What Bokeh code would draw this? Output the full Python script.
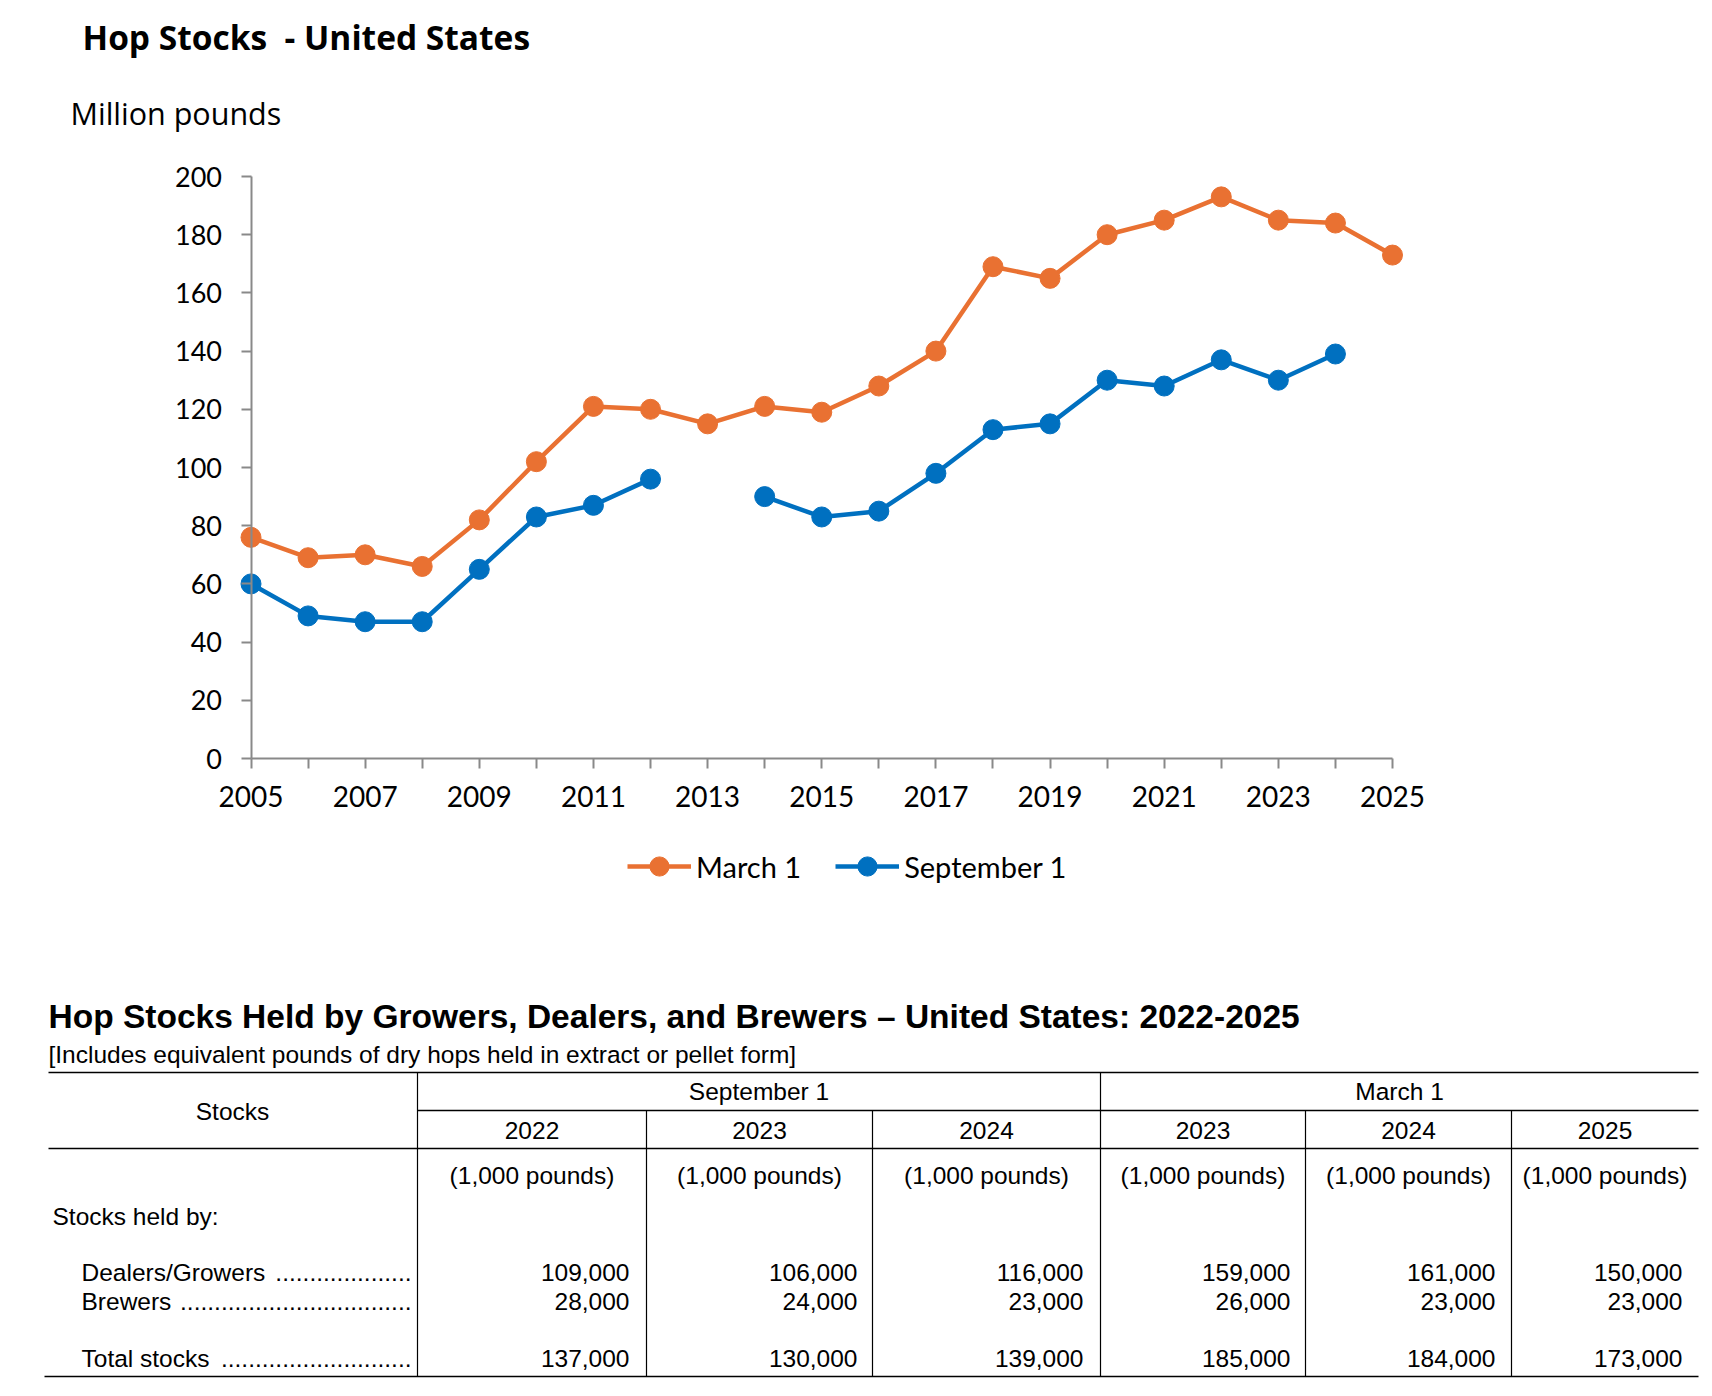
import math
from bokeh.plotting import figure
from bokeh.models import Range1d, FixedTicker, Legend, LegendItem, ColumnDataSource
from bokeh.embed import file_html
from bokeh.resources import INLINE
from bokeh.core.properties import value

# ---------------- data ----------------
years = list(range(2005, 2026))
march_1 = [76, 69, 70, 66, 82, 102, 121, 120, 115, 121, 119, 128, 140, 169, 165, 180, 185, 193, 185, 184, 173]
september_1 = [60, 49, 47, 47, 65, 83, 87, 96, math.nan, 90, 83, 85, 98, 113, 115, 130, 128, 137, 130, 139, math.nan]
y_ticks = [0, 20, 40, 60, 80, 100, 120, 140, 160, 180, 200]
x_label_years = [2005, 2007, 2009, 2011, 2013, 2015, 2017, 2019, 2021, 2023, 2025]

chart_title = "Hop Stocks  - United States"
y_unit = "Million pounds"

table_title = "Hop Stocks Held by Growers, Dealers, and Brewers \u2013 United States: 2022-2025"
table_note = "[Includes equivalent pounds of dry hops held in extract or pellet form]"
stub_header = "Stocks"
table_groups = ["September 1", "March 1"]
table_years = ["2022", "2023", "2024", "2023", "2024", "2025"]
table_unit = "(1,000 pounds)"
section_label = "Stocks held by:"
row_labels = ["Dealers/Growers", "Brewers", "Total stocks"]
dealers_growers = [109000, 106000, 116000, 159000, 161000, 150000]
brewers = [28000, 24000, 23000, 26000, 23000, 23000]
total_stocks = [137000, 130000, 139000, 185000, 184000, 173000]

ORANGE = "#E97132"
BLUE = "#0070C0"
AXIS = "#898989"
FONT = "Lato"
HFONT = "Open Sans"
TFONT = "Liberation Sans"
ORG = 0          # page origin of the figures
W = 1710


def canvas(top, bottom):
    """figure whose frame is the whole canvas, with page-pixel ranges"""
    f = figure(width=W, height=bottom - top, output_backend="svg", toolbar_location=None,
               x_range=Range1d(ORG, ORG + W), y_range=Range1d(bottom, top), min_border=0,
               x_axis_location=None, y_axis_location=None)
    f.outline_line_color = None
    f.xgrid.visible = False
    f.ygrid.visible = False
    return f


# ---------------- header ----------------
H_TOP, H_BOT = ORG, 140
h = canvas(H_TOP, H_BOT)
h.text(x=[82], y=[36], text=[chart_title.replace("  ", " \u00a0")], text_font=value(HFONT),
       text_font_style="bold", text_font_size="33.5px", text_baseline="middle", text_color="black")
h.text(x=[70], y=[112], text=[y_unit], text_font=value(HFONT),
       text_font_size="30.5px", text_baseline="middle", text_color="black")

# ---------------- chart ----------------
C_TOP, C_BOT = H_BOT, 990
FR_L, FR_R, FR_T, FR_B = 170, ORG + W, C_TOP, 910   # frame, page px
X0_PX, X1_PX = 250.5, 1392.0                        # 2005 / 2025 positions
Y0_PX, Y1_PX = 758.0, 176.0                         # 0 / 200 positions
kx = (X1_PX - X0_PX) / (years[-1] - years[0])
ky = (Y0_PX - Y1_PX) / (y_ticks[-1] - y_ticks[0])

p = figure(width=W, height=C_BOT - C_TOP, output_backend="svg", toolbar_location=None,
           x_range=Range1d(years[0] - (X0_PX - FR_L) / kx, years[0] + (FR_R - X0_PX) / kx),
           y_range=Range1d(y_ticks[0] - (FR_B - Y0_PX) / ky, y_ticks[0] + (Y0_PX - FR_T) / ky),
           min_border_left=FR_L - ORG, min_border_right=ORG + W - FR_R,
           min_border_top=FR_T - C_TOP, min_border_bottom=C_BOT - FR_B)
p.outline_line_color = None
p.xgrid.visible = False
p.ygrid.visible = False

src = ColumnDataSource(dict(x=years, m=march_1, s=september_1))
lm = p.line("x", "m", source=src, line_color=ORANGE, line_width=4.5)
cm = p.scatter("x", "m", source=src, marker="circle", size=20, fill_color=ORANGE, line_color=ORANGE)
ls = p.line("x", "s", source=src, line_color=BLUE, line_width=4.5)
cs = p.scatter("x", "s", source=src, marker="circle", size=20, fill_color=BLUE, line_color=BLUE)

xa = p.xaxis[0]
xa.ticker = FixedTicker(ticks=years)
xa.major_label_overrides = {y: (str(y) if y in x_label_years else "") for y in years}
xa.bounds = (years[0], years[-1])
xa.fixed_location = y_ticks[0]
ya = p.yaxis[0]
ya.ticker = FixedTicker(ticks=y_ticks)
ya.bounds = (y_ticks[0], y_ticks[-1])
ya.fixed_location = years[0]
for ax in (xa, ya):
    ax.axis_line_color = AXIS
    ax.axis_line_width = 2
    ax.major_tick_line_color = AXIS
    ax.major_tick_line_width = 2
    ax.major_tick_out = 10
    ax.major_tick_in = 0
    ax.minor_tick_line_color = None
    ax.major_label_text_font = FONT
    ax.major_label_text_color = "black"
xa.major_label_text_font_size = "28px"
ya.major_label_text_font_size = "27px"
xa.major_label_standoff = 17
ya.major_label_standoff = 19

legend = Legend(items=[LegendItem(label="March 1", renderers=[lm, cm]),
                       LegendItem(label="September 1", renderers=[ls, cs])],
                orientation="horizontal", location=(627 - FR_L, FR_B - 890),
                glyph_width=64, glyph_height=48, label_height=48, label_standoff=5,
                spacing=34, padding=0, margin=0, border_line_color=None,
                background_fill_alpha=0, label_text_font=FONT,
                label_text_font_size="29px", label_text_color="black")
p.add_layout(legend, "center")

# ---------------- table ----------------
T_TOP, T_BOT = C_BOT, 1392
t = canvas(T_TOP, T_BOT)

L, R = 48, 1698
col_edges = [417, 646, 872, 1100, 1305, 1511, R]
num_right = [629, 857, 1083, 1290, 1495, 1682]
FS = "24.5px"

t.segment(x0=[L, 417, L, 44], x1=[R, R, R, R], y0=[1072, 1110, 1148, 1376], y1=[1072, 1110, 1148, 1376],
          line_color="black", line_width=1.6)
vx = [417, 1100, 646, 872, 1305, 1511]
vy0 = [1072, 1072, 1110, 1110, 1110, 1110]
t.segment(x0=vx, x1=vx, y0=vy0, y1=[1376] * len(vx), line_color="black", line_width=1.2)


def txt(x, y, s, size=FS, align="left", style="normal"):
    t.text(x=[x], y=[y], text=[s], text_font=value(TFONT), text_font_size=size,
           text_align=align, text_baseline="middle", text_font_style=style, text_color="black")


txt(48, 1016, table_title, size="33.5px", style="bold")
txt(48, 1054, table_note)
txt(232, 1111, stub_header, align="center")
txt((417 + 1100) / 2, 1091, table_groups[0], align="center")
txt((1100 + R) / 2, 1091, table_groups[1], align="center")
centers = [(col_edges[i] + col_edges[i + 1]) / 2 for i in range(6)]
t.text(x=centers, y=[1130] * 6, text=table_years, text_font=value(TFONT), text_font_size=FS,
       text_align="center", text_baseline="middle", text_color="black")
t.text(x=centers, y=[1175] * 6, text=[table_unit] * 6, text_font=value(TFONT), text_font_size=FS,
       text_align="center", text_baseline="middle", text_color="black")
txt(52, 1216, section_label)

row_y = [1272, 1301, 1358]
dots = ["." * 20, "." * 34, "." * 28]
for lab, yy, d in zip(row_labels, row_y, dots):
    txt(81, yy, lab)
    txt(411, yy, d, align="right")
for vals, yy in zip([dealers_growers, brewers, total_stocks], row_y):
    t.text(x=num_right, y=[yy] * 6, text=[f"{v:,}" for v in vals], text_font=value(TFONT),
           text_font_size=FS, text_align="right", text_baseline="middle", text_color="black")

open("out.html", "w").write(file_html([h, p, t], INLINE))
